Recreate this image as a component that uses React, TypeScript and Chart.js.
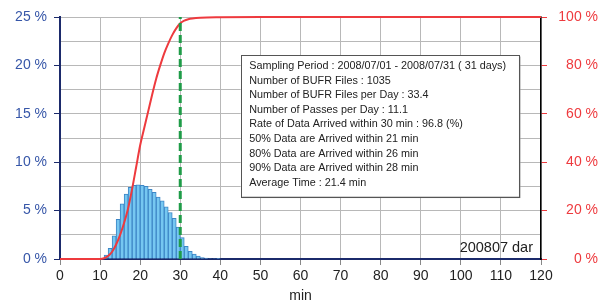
import React, { useEffect, useRef } from 'react';
import { Chart, registerables } from 'chart.js';

Chart.register(...registerables);

// ---- data ----
const BIN_START_MIN = [10, 11, 12, 13, 14, 15, 16, 17, 18, 19, 20, 21, 22, 23, 24, 25, 26, 27, 28, 29, 30, 31, 32, 33, 34, 35, 36, 37, 38, 39];
const HIST_PCT = [0.05, 0.4, 1.1, 2.4, 4.1, 5.7, 6.7, 7.4, 7.6, 7.65, 7.6, 7.5, 7.2, 6.9, 6.4, 6.0, 5.4, 4.8, 4.2, 3.3, 2.2, 1.3, 0.8, 0.5, 0.3, 0.15, 0.1, 0.05, 0.05, 0.03];

const CUM_MIN = [0, 10, 11, 12, 13, 14, 15, 16, 17, 18, 19, 20, 21, 22, 23, 24, 25, 26, 27, 28, 29, 30, 31, 32, 33, 35, 40, 50, 120];
const CUM_PCT = [0, 0, 0.3, 1.2, 3, 6, 10, 15, 21, 29, 38, 47, 54, 61, 68, 74.5, 80, 85, 89, 92.5, 95.3, 97.4, 98.5, 99.1, 99.4, 99.7, 99.9, 100, 100];

const THRESHOLD_MIN = 30;

const X_TICK_STEP = 10;
const LEFT_STEP = 2.5;
const LEFT_LABEL_STEP = 5;
const RIGHT_STEP = 20;

const INFO_LINES = [
  'Sampling Period : 2008/07/01 - 2008/07/31 ( 31 days)',
  'Number of BUFR Files : 1035',
  'Number of BUFR Files per Day : 33.4',
  'Number of Passes per Day : 11.1',
  'Rate of Data Arrived within 30 min : 96.8 (%)',
  '50% Data are Arrived within 21 min',
  '80% Data are Arrived within 26 min',
  '90% Data are Arrived within 28 min',
  'Average Time : 21.4 min',
];
const STATION_LABEL = '200807 dar';
const X_TITLE = 'min';

const FONT = "'Liberation Sans', Arial, sans-serif";
const NAVY = '#1b2a6b';
const GRID = '#b8b8b8';
const BLUE_TXT = '#3656a8';
const RED = '#ee3a3e';

const annotationPlugin = {
  id: 'infoBox',
  afterDraw(chart: any) {
    const { ctx, chartArea } = chart;
    const w = chartArea.right - chartArea.left;
    const h = chartArea.bottom - chartArea.top;
    const bx = chartArea.left + w * 0.3757;
    const by = chartArea.top + h * 0.157;
    const bw = w * 0.5785;
    const bh = h * 0.585;
    ctx.save();
    // shadow
    ctx.fillStyle = '#9a9a9a';
    ctx.fillRect(bx + 1.5, by + 1.5, bw, bh);
    ctx.fillStyle = '#ffffff';
    ctx.fillRect(bx, by, bw, bh);
    ctx.strokeStyle = '#555';
    ctx.lineWidth = 1;
    ctx.strokeRect(Math.round(bx) + 0.5, Math.round(by) + 0.5, Math.round(bw), Math.round(bh));
    ctx.fillStyle = '#222';
    ctx.font = `10.8px ${FONT}`;
    ctx.textBaseline = 'middle';
    ctx.textAlign = 'left';
    INFO_LINES.forEach((line, i) => {
      ctx.fillText(line, bx + 8.5, by + 11 + i * 14.6);
    });
    // station label
    ctx.font = `14.5px ${FONT}`;
    ctx.textAlign = 'right';
    ctx.fillStyle = '#222';
    ctx.fillText(STATION_LABEL, chartArea.right - 8, chartArea.bottom - 11.5);
    ctx.restore();
  },
};

export default function App() {
  const ref = useRef<HTMLCanvasElement | null>(null);

  useEffect(() => {
    if (!ref.current) return;
    const histData = BIN_START_MIN.map((m, i) => ({ x: m + 0.5, y: HIST_PCT[i] }));
    const cumData = CUM_MIN.map((m, i) => ({ x: m, y: CUM_PCT[i] }));
    const chart = new Chart(ref.current, {
      type: 'bar',
      data: {
        datasets: [
          {
            type: 'bar',
            label: 'histogram',
            data: histData as any,
            xAxisID: 'x',
            yAxisID: 'y',
            backgroundColor: '#76c7f1',
            borderColor: '#3d86c6',
            borderWidth: 1,
            barPercentage: 1,
            categoryPercentage: 1,
            order: 3,
          } as any,
          {
            type: 'line',
            label: 'cumulative',
            data: cumData as any,
            xAxisID: 'x',
            yAxisID: 'y2',
            borderColor: RED,
            borderWidth: 2,
            pointRadius: 0,
            cubicInterpolationMode: 'monotone',
            clip: 4,
            order: 2,
          } as any,
          {
            type: 'line',
            label: 'threshold',
            data: [
              { x: THRESHOLD_MIN, y: 0 },
              { x: THRESHOLD_MIN, y: 25 },
            ] as any,
            xAxisID: 'x',
            yAxisID: 'y',
            borderColor: '#1f9c48',
            borderWidth: 3,
            borderDash: [8, 4],
            pointRadius: 0,
            order: 1,
          } as any,
        ],
      },
      options: {
        animation: false,
        responsive: false,
        maintainAspectRatio: false,
        layout: { padding: { top: 17, left: 0, right: 8, bottom: 0 } },
        plugins: {
          legend: { display: false },
          tooltip: { enabled: false },
        },
        scales: {
          x: {
            type: 'linear',
            position: 'bottom',
            min: 0,
            max: 120,
            offset: false,
            grid: { color: GRID, offset: false, tickLength: 6, tickColor: '#888' },
            border: { color: NAVY, width: 2 },
            ticks: {
              stepSize: X_TICK_STEP,
              autoSkip: false,
              maxRotation: 0,
              color: '#222',
              padding: 3,
              font: { family: FONT, size: 14 },
            },
            title: {
              display: true,
              text: X_TITLE,
              color: '#222',
              font: { family: FONT, size: 14 },
              padding: { top: 0, bottom: -2 },
            },
            afterFit(scale: any) {
              scale.height = 44;
            },
          },
          y: {
            position: 'left',
            min: 0,
            max: 25,
            grid: {
              color: GRID,
              tickLength: 6,
              tickColor: (ctx: any) =>
                ctx.tick && Math.abs(ctx.tick.value % LEFT_LABEL_STEP) < 1e-6 ? NAVY : 'rgba(0,0,0,0)',
            },
            border: { color: NAVY, width: 2 },
            ticks: {
              stepSize: LEFT_STEP,
              color: BLUE_TXT,
              padding: 7,
              autoSkip: false,
              font: { family: FONT, size: 14 },
              callback: (v: any) => (Math.abs(Number(v) % LEFT_LABEL_STEP) < 1e-6 ? `${v} %` : ''),
            },
            afterFit(scale: any) {
              scale.width = 60;
            },
          },
          y2: {
            position: 'right',
            min: 0,
            max: 100,
            grid: { drawOnChartArea: false, tickLength: 6, tickColor: RED },
            border: { color: '#000', width: 1.5 },
            ticks: {
              stepSize: RIGHT_STEP,
              color: RED,
              crossAlign: 'far',
              padding: 3,
              font: { family: FONT, size: 14 },
              callback: (v: any) => `${v} %`,
            },
            afterFit(scale: any) {
              scale.width = 57;
            },
          },
        },
      } as any,
      plugins: [annotationPlugin],
    });
    return () => chart.destroy();
  }, []);

  return (
    <div style={{ position: 'fixed', left: 0, top: 0, width: 606, height: 303, background: '#fff' }}>
      <canvas ref={ref} width={606} height={303} style={{ display: 'block', width: 606, height: 303 }} />
    </div>
  );
}
